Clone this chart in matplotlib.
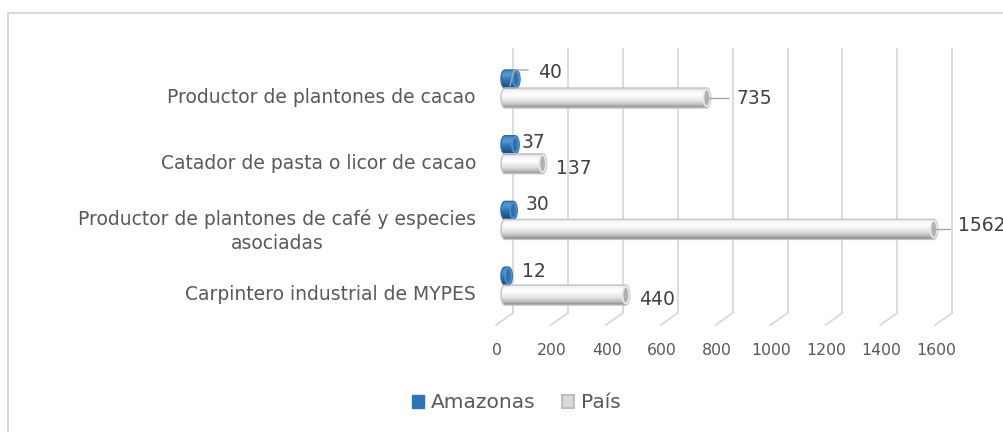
import numpy as np
import matplotlib
matplotlib.use("Agg")
import matplotlib.pyplot as plt
from matplotlib.patches import Ellipse, Polygon, Patch
from matplotlib.lines import Line2D
from matplotlib.colors import LinearSegmentedColormap
from matplotlib.transforms import offset_copy, ScaledTranslation

plt.rcParams['font.family'] = ['DejaVu Sans']

# data
categories = [
    "Productor de plantones de cacao",
    "Catador de pasta o licor de cacao",
    "Productor de plantones de café y especies\nasociadas",
    "Carpintero industrial de MYPES",
]
amazonas = [40, 37, 30, 12]
pais = [735, 137, 1562, 440]
series_names = ["Amazonas", "País"]
xticks = list(range(0, 1601, 200))

# label offsets in pixels (dx from bar end, dy from bar centre, +down)
amz_lbl_off = [(22, -6), (6, -2), (12, -6), (14, -5)]
pais_lbl_off = [(30, 1), (13, 5), (24, -4), (13, 4)]

W, H = 1004, 432
fig = plt.figure(figsize=(W / 100, H / 100), dpi=100)

# axes = front plane; x=0 at px 505, 0.2745 px per unit
px_per_unit = 0.2745
x0_px = 505
back_dx = 513 - x0_px    # back wall gridlines
floor_dx = 496 - x0_px   # front edge of the floor
tick_dx = 497 - x0_px
xmin, xmax = -40, 1650
row0_px, row_gap = 98, 65.7
top_px, bot_px = 49, 325
ylo = (top_px - row0_px) / row_gap
yhi = (bot_px - row0_px) / row_gap
left_px = x0_px + xmin * px_per_unit
ax = fig.add_axes([left_px / W, (H - bot_px) / H,
                   (xmax - xmin) * px_per_unit / W, (bot_px - top_px) / H])
ax.set_xlim(xmin, xmax)
ax.set_ylim(yhi, ylo)
for s in ax.spines.values():
    s.set_visible(False)
ax.set_facecolor("none")

grid_c = "#d9d9d9"
back_y = (313 - row0_px) / row_gap
back_tr = offset_copy(ax.transData, fig=fig, x=back_dx, y=0, units='dots')
inv = ax.transData.inverted()
for v in xticks:
    ax.plot([v, v], [ylo, back_y], color=grid_c, lw=1.3, transform=back_tr,
            zorder=0, clip_on=False)
    # floor diagonal
    p_back = back_tr.transform((v, back_y))
    p_front = ax.transData.transform((v, yhi)) + np.array([floor_dx, 0])
    a = inv.transform(p_back)
    b = inv.transform(p_front)
    ax.plot([a[0], b[0]], [a[1], b[1]], color=grid_c, lw=1.3, zorder=0,
            clip_on=False)

ax.set_xticks(xticks)
ax.set_xticklabels([str(v) for v in xticks], fontsize=11.3, color="#595959")
ax.tick_params(axis='x', length=0, pad=13)
for lbl in ax.get_xticklabels():
    lbl.set_transform(lbl.get_transform() + ScaledTranslation(tick_dx / 100, 0, fig.dpi_scale_trans))

rows = np.arange(len(categories))
ax.set_yticks(rows)
ax.set_yticklabels(categories, fontsize=13.5, color="#595959",
                   multialignment='center', linespacing=1.3)
ax.tick_params(axis='y', length=0, pad=(left_px - 476) * 0.72)
for lbl in ax.get_yticklabels():
    lbl.set_transform(lbl.get_transform() + ScaledTranslation(0, 2.5 / 100, fig.dpi_scale_trans))

ew = 8 / px_per_unit  # cap width in data units


def gradient_img(colors):
    cmap = LinearSegmentedColormap.from_list("g", colors)
    return cmap(np.linspace(0, 1, 64))[:, None, :]


gray_grad = gradient_img([(0, "#cfcfcf"), (0.12, "#f4f4f4"), (0.35, "#ffffff"),
                          (0.65, "#e2e2e2"), (0.88, "#b3b3b3"), (1, "#858585")])
blue_grad = gradient_img([(0, "#3d82c4"), (0.25, "#5a9ad8"), (0.55, "#2e75b6"),
                          (1, "#1a4a78")])


def cylinder(value, yc, h, grad, edge, cap_face, cap_edge):
    t = np.linspace(np.pi / 2, 3 * np.pi / 2, 30)
    left = np.column_stack([ew / 2 * np.cos(t), yc - h / 2 * np.sin(t)])
    t2 = np.linspace(-np.pi / 2, np.pi / 2, 30)
    right = np.column_stack([value + ew / 2 * np.cos(t2), yc - h / 2 * np.sin(t2)])
    outline = np.vstack([left, right])
    poly = Polygon(outline, closed=True, facecolor="none", edgecolor=edge,
                   lw=1.0, zorder=3)
    ax.add_patch(poly)
    im = ax.imshow(grad, extent=[-ew / 2, value + ew / 2, yc + h / 2, yc - h / 2],
                   aspect='auto', zorder=2, interpolation='bilinear')
    im.set_clip_path(poly)
    cap = Ellipse((value, yc), ew * 0.8, h * 0.85, facecolor=cap_face,
                  edgecolor=cap_edge, lw=1.2, zorder=4)
    ax.add_patch(cap)
    return poly


gray_h = 20 / row_gap
blue_h = 18 / row_gap
blue_dy = -19 / row_gap

for i in rows:
    yb = i + blue_dy
    cylinder(amazonas[i], yb, blue_h, blue_grad, "#2a6aa6", "#2f71ad", "#4f8fcc")
    cylinder(pais[i], i, gray_h, gray_grad, "#c4c4c4", "#b0b0b0", "#e8e8e8")
ax.set_xlim(xmin, xmax)
ax.set_ylim(yhi, ylo)

lbl_c = "#404040"
for i in rows:
    for val, yc, (dx, dy) in ((amazonas[i], i + blue_dy, amz_lbl_off[i]),
                              (pais[i], i, pais_lbl_off[i])):
        tr = offset_copy(ax.transData, fig=fig, x=dx, y=-dy, units='dots')
        ax.text(val, yc, str(val), transform=tr, fontsize=13.5, color=lbl_c,
                ha='left', va='center', clip_on=False, zorder=5)

# leader lines for the labels that have them
lead_c = "#a6a6a6"
for val, yc, dxs in ((pais[0], 0, (2, 21)), (pais[2], 2, (2, 16))):
    pa = ax.transData.transform((val, yc)) + np.array([dxs[0], 0])
    pb = ax.transData.transform((val, yc)) + np.array([dxs[1], 0])
    pa, pb = inv.transform(pa), inv.transform(pb)
    ax.plot([pa[0], pb[0]], [pa[1], pb[1]], color=lead_c, lw=1, zorder=5,
            clip_on=False)
# leader for first Amazonas label
p1 = ax.transData.transform((amazonas[0], blue_dy))
pts = inv.transform(p1 + np.array([[-6, -7], [-2, 9], [12, 9]]))
ax.plot(pts[:, 0], pts[:, 1], color=lead_c, lw=1, zorder=5, clip_on=False)

# legend
handles = [Patch(facecolor="#2e75b6", edgecolor="#2e75b6"),
           Patch(facecolor="#d9d9d9", edgecolor="#bfbfbf", lw=1.5)]
fig.legend(handles, series_names, loc='center', bbox_to_anchor=(516 / W, 1 - 403 / H),
           ncol=2, frameon=False, fontsize=14.5, handlelength=0.6, handleheight=0.6,
           handletextpad=0.35, columnspacing=1.3, labelcolor="#595959")

# chart frame (left and top edges visible)
fig.add_artist(Line2D([8 / W, 8 / W, 1], [0, 1 - 13 / H, 1 - 13 / H],
                      color="#d9d9d9", lw=1.5, transform=fig.transFigure))

fig.savefig("out.png", dpi=100)
